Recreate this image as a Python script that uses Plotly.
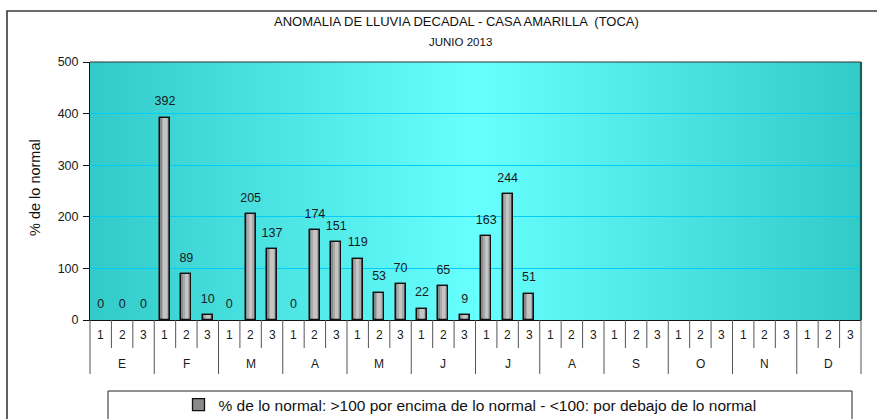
import base64
import struct
import zlib

import plotly.graph_objects as go

# ---------------- data ----------------
months = ["E", "F", "M", "A", "M", "J", "J", "A", "S", "O", "N", "D"]
decades = ["1", "2", "3"]
pct_normal = [
    0, 0, 0,        # E
    392, 89, 10,    # F
    0, 205, 137,    # M
    0, 174, 151,    # A
    119, 53, 70,    # M
    22, 65, 9,      # J
    163, 244, 51,   # J
    None, None, None,  # A
    None, None, None,  # S
    None, None, None,  # O
    None, None, None,  # N
    None, None, None,  # D
]
y_ticks = [0, 100, 200, 300, 400, 500]
title_1 = "ANOMALIA DE LLUVIA DECADAL - CASA AMARILLA  (TOCA)"
title_2 = "JUNIO 2013"
y_title = "% de lo normal"
legend_label = "% de lo normal: >100 por encima de lo normal - <100: por debajo de lo normal"

# ---------------- layout geometry ----------------
W, H = 877, 419
L, R, T, B = 90, 861, 62, 320
PW, PH = R - L, B - T


def px_x(x):
    return (x - L) / PW


def px_y(y):
    return (B - y) / PH


n_cat = len(months) * len(decades)
x_idx = list(range(n_cat))
# zero-height bars are not drawn (only their labels)
bar_vals = [v if v else None for v in pct_normal]

FONT = "Arial, Liberation Sans, sans-serif"


# ---------------- gradient background (png data uri) ----------------
def gradient_png(width=256):
    edge = (51, 202, 202)
    mid = (104, 255, 255)
    center = (475 - L) / PW
    row = bytearray([0])
    for i in range(width):
        t = i / (width - 1)
        if t <= center:
            f = t / center
        else:
            f = (1 - t) / (1 - center)
        c = [round(edge[k] + (mid[k] - edge[k]) * f) for k in range(3)]
        row.extend(c)

    def chunk(tag, data):
        return (struct.pack(">I", len(data)) + tag + data
                + struct.pack(">I", zlib.crc32(tag + data) & 0xFFFFFFFF))

    png = b"\x89PNG\r\n\x1a\n"
    png += chunk(b"IHDR", struct.pack(">IIBBBBB", width, 1, 8, 2, 0, 0, 0))
    png += chunk(b"IDAT", zlib.compress(bytes(row)))
    png += chunk(b"IEND", b"")
    return "data:image/png;base64," + base64.b64encode(png).decode()


fig = go.Figure()

# base bar (legend entry)
fig.add_trace(go.Bar(
    x=x_idx, y=bar_vals, width=0.47,
    marker=dict(color="#8a8a8a", line=dict(color="#111111", width=1.3)),
    name=legend_label, showlegend=True, hoverinfo="skip",
))
# lighter inner strips to imitate the shaded bars
fig.add_trace(go.Bar(
    x=x_idx, y=bar_vals, width=0.32,
    marker=dict(color="#a9a9a9", line=dict(width=0)),
    showlegend=False, hoverinfo="skip",
))
fig.add_trace(go.Bar(
    x=x_idx, y=bar_vals, width=0.16,
    marker=dict(color="#c4c4c4", line=dict(width=0)),
    showlegend=False, hoverinfo="skip",
))
# outline on top
fig.add_trace(go.Bar(
    x=x_idx, y=bar_vals, width=0.47,
    marker=dict(color="rgba(0,0,0,0)", line=dict(color="#111111", width=1.3)),
    showlegend=False, hoverinfo="skip",
))
# value labels
fig.add_trace(go.Scatter(
    x=x_idx, y=pct_normal, mode="markers+text",
    text=[("" if v is None else str(v)) for v in pct_normal],
    textposition="top center",
    textfont=dict(family=FONT, size=12.5, color="#1a1a1a"),
    marker=dict(size=13, color="rgba(0,0,0,0)"),
    showlegend=False, hoverinfo="skip", cliponaxis=False,
))

shapes = []
annotations = []

# separators of category axis
dec_y = px_y(348)
mon_y = px_y(374)
for i in range(n_cat + 1):
    is_month = (i % len(decades) == 0)
    shapes.append(dict(
        type="line", xref="paper", yref="paper",
        x0=i / n_cat, x1=i / n_cat, y0=0, y1=mon_y if is_month else dec_y,
        line=dict(color="#555555", width=1), layer="above",
    ))

# decade and month labels
for i in range(n_cat):
    annotations.append(dict(
        x=(i + 0.5) / n_cat, y=px_y(335), xref="paper", yref="paper",
        text=decades[i % len(decades)], showarrow=False,
        font=dict(family=FONT, size=12, color="#1a1a1a"),
        xanchor="center", yanchor="middle",
    ))
for m, name in enumerate(months):
    annotations.append(dict(
        x=(m * 3 + 1.5) / n_cat, y=px_y(364), xref="paper", yref="paper",
        text=name, showarrow=False,
        font=dict(family=FONT, size=12, color="#1a1a1a"),
        xanchor="center", yanchor="middle",
    ))

# plot border: top thin dark, right thicker teal shadow
shapes.append(dict(type="line", xref="paper", yref="paper", x0=0, x1=1, y0=1, y1=1,
                   line=dict(color="#333333", width=1), layer="above"))
shapes.append(dict(type="line", xref="paper", yref="paper", x0=px_x(861), x1=px_x(861), y0=0, y1=1,
                   line=dict(color="#1d5f5f", width=2.2), layer="above"))

# outer chart frame
shapes.append(dict(type="rect", xref="paper", yref="paper",
                   x0=px_x(7), x1=px_x(900), y0=px_y(440), y1=px_y(11),
                   line=dict(color="#3a3a3a", width=1.6), fillcolor="rgba(0,0,0,0)", layer="above"))
# legend box
shapes.append(dict(type="rect", xref="paper", yref="paper",
                   x0=px_x(108), x1=px_x(852), y0=px_y(430), y1=px_y(391),
                   line=dict(color="#222222", width=1), fillcolor="rgba(0,0,0,0)", layer="above"))

# titles
annotations.append(dict(x=px_x(456), y=px_y(22), xref="paper", yref="paper", text=title_1,
                        showarrow=False, font=dict(family=FONT, size=13, color="#111111"),
                        xanchor="center", yanchor="middle"))
annotations.append(dict(x=px_x(460), y=px_y(42), xref="paper", yref="paper", text=title_2,
                        showarrow=False, font=dict(family=FONT, size=11.5, color="#111111"),
                        xanchor="center", yanchor="middle"))
annotations.append(dict(x=px_x(35), y=px_y(188), xref="paper", yref="paper", text=y_title,
                        showarrow=False, textangle=-90,
                        font=dict(family=FONT, size=14.5, color="#111111"),
                        xanchor="center", yanchor="middle"))

fig.update_layout(
    width=W, height=H,
    margin=dict(l=L, r=W - R, t=T, b=H - B, pad=0),
    paper_bgcolor="white",
    plot_bgcolor="#4ee6e6",
    barmode="overlay",
    bargap=0,
    showlegend=True,
    legend=dict(orientation="h", xref="container", yref="container",
                x=470 / W, xanchor="center", y=(H - 405) / H, yanchor="middle",
                font=dict(family=FONT, size=15.5, color="#111111"),
                bgcolor="rgba(0,0,0,0)", itemwidth=30),
    xaxis=dict(range=[-0.5, n_cat - 0.5], showticklabels=False, ticks="",
               showgrid=False, zeroline=False, showline=True, linecolor="#111111", linewidth=1,
               fixedrange=True),
    yaxis=dict(range=[0, 500], tickvals=y_ticks, ticks="outside", ticklen=6, tickcolor="#111111",
               showline=True, linecolor="#111111", linewidth=1, ticklabelstandoff=2,
               showgrid=True, gridcolor="#00ccff", gridwidth=1, zeroline=False,
               tickfont=dict(family=FONT, size=12.5, color="#1a1a1a"), fixedrange=True),
    shapes=shapes,
    annotations=annotations,
    images=[dict(source=gradient_png(), xref="paper", yref="paper", x=0, y=1,
                 sizex=1, sizey=1, sizing="stretch", xanchor="left", yanchor="top",
                 layer="below")],
)

fig.write_html("out.html", config={"displayModeBar": False},
               post_script="document.body.style.margin='0';")
